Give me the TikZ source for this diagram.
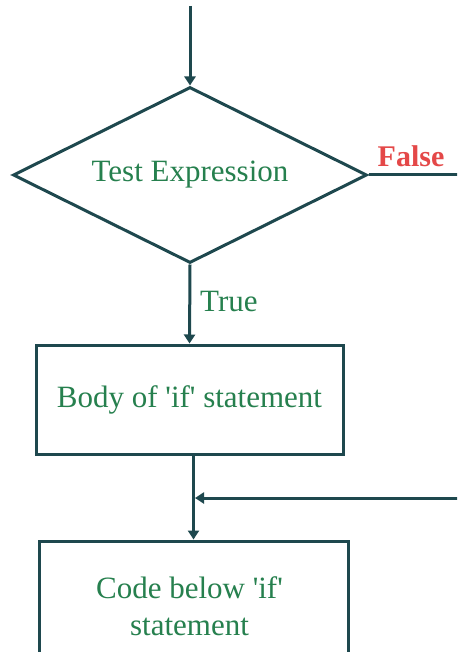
\documentclass[tikz,border=0pt]{standalone}
\usepackage{fontspec}
\setmainfont{Liberation Serif}
\usetikzlibrary{shapes.geometric,arrows.meta}

\definecolor{flowline}{RGB}{30,72,78}
\definecolor{flowtext}{RGB}{38,128,78}
\definecolor{falsetext}{RGB}{228,72,72}

\begin{document}
\begin{tikzpicture}[x=1pt,y=-1pt,
  line/.style={draw=flowline, line width=3pt},
  arrow/.style={line, -{Triangle[width=11pt,length=9pt]}},
  label/.style={text=flowtext, font=\fontsize{31}{37}\selectfont, align=center},
  decision/.style={diamond, line, shape aspect=2, minimum width=354pt,
    minimum height=176pt, inner sep=0pt, label},
  stepbox/.style={rectangle, line, inner sep=0pt, label}]

  \clip (0,0) rectangle (457,652);
  \fill[white] (0,0) rectangle (457,652);

  % decision and the two blocks
  \node[decision] (test) at (190,175) {Test Expression};
  \node[stepbox, minimum width=307pt, minimum height=109pt] (body) at (189.5,399.5)
    {Body of \textquotesingle if\textquotesingle\ statement};
  % text of the lower block sits a little left of the block's centre
  \node[stepbox, minimum width=309pt, minimum height=130pt] (after) at (193.5,606)
    {\hspace*{-8pt}Code below \textquotesingle if\textquotesingle\\\hspace*{-8pt}statement};

  % free ends of the connectors
  \coordinate (entry) at (190,6);
  \coordinate (falseout) at (460,175);
  \coordinate (loopin) at (460,498);
  \coordinate (join) at (193.5,498);

  % connectors
  \draw[arrow] (entry) -- (test.north);
  \draw[line] (test.east) -- (falseout);
  \draw[arrow] (test.south) -- (body.north);
  \draw[arrow] (body.south -| after.north) -- (after.north);
  \draw[arrow, shorten >=1.5pt] (loopin) -- (join);

  % branch labels
  \node[label, anchor=west, inner sep=0pt] (truelbl) at (200,302) {True};
  \node[text=falsetext, font=\fontsize{30}{37}\selectfont\bfseries, inner sep=0pt]
    (falselbl) at (411,156) {False};
\end{tikzpicture}
\end{document}
